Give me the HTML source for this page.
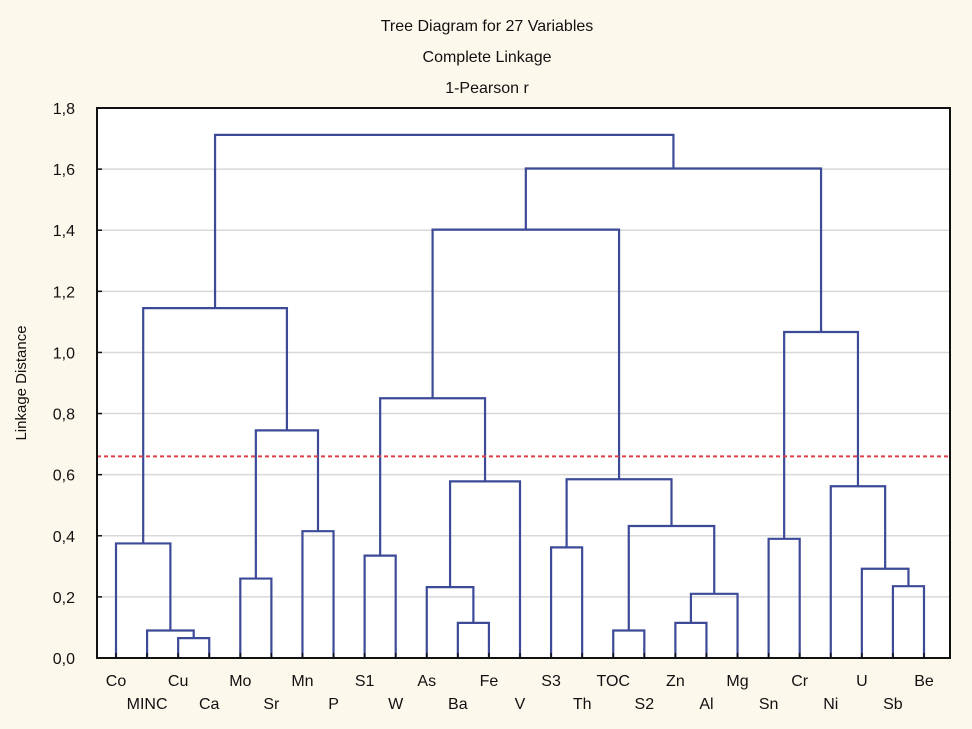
<!DOCTYPE html>
<html><head><meta charset="utf-8"><style>
html,body{margin:0;padding:0;background:#fdf8ec;}
svg{display:block;font-family:"Liberation Sans",sans-serif;}
</style></head><body>
<svg id="c" width="972" height="729">
<rect x="0" y="0" width="972" height="729" fill="#fdf8ec"/>
<text x="487" y="31" font-size="16" text-anchor="middle" fill="#111">Tree Diagram for 27 Variables</text>
<text x="487" y="62" font-size="16" text-anchor="middle" fill="#111">Complete Linkage</text>
<text x="487" y="93" font-size="16" text-anchor="middle" fill="#111">1-Pearson r</text>
<rect x="97" y="108" width="853" height="550" fill="#fff"/>
<g id="grid"></g><g id="marks"></g><g id="axes"></g>
<text transform="translate(26,383) rotate(-90)" font-size="15" text-anchor="middle" fill="#111">Linkage Distance</text>
</svg>
<script>
const leaves=["Co","MINC","Cu","Ca","Mo","Sr","Mn","P","S1","W","As","Ba","Fe","V","S3","Th","TOC","S2","Zn","Al","Mg","Sn","Cr","Ni","U","Sb","Be"];
// merges: [childA, childB, height]; children are leaf names or "m<index>"
const merges=[
["Cu","Ca",0.065],["MINC","m0",0.09],["Co","m1",0.375],
["Mo","Sr",0.26],["Mn","P",0.415],["m3","m4",0.745],["m2","m5",1.145],
["S1","W",0.335],["Ba","Fe",0.115],["As","m8",0.232],["m9","V",0.578],["m7","m10",0.85],
["S3","Th",0.362],["TOC","S2",0.09],["Zn","Al",0.115],["m14","Mg",0.21],["m13","m15",0.432],["m12","m16",0.585],
["m11","m17",1.402],
["Sn","Cr",0.39],["Sb","Be",0.235],["U","m20",0.292],["Ni","m21",0.562],["m19","m22",1.067],
["m18","m23",1.602],["m6","m24",1.712]];
const yTicks=[0,0.2,0.4,0.6,0.8,1.0,1.2,1.4,1.6,1.8];
const cutLevel=[0.66];
const L=97,R=950,T=108,B=658;
const y=v=>B-(v/1.8)*(B-T);
const x=i=>116+i*(924-116)/26;
const NS="http://www.w3.org/2000/svg";
function mk(tag,attrs,parent){const e=document.createElementNS(NS,tag);for(const k in attrs)e.setAttribute(k,attrs[k]);parent.appendChild(e);return e;}
const grid=document.getElementById('grid'),marks=document.getElementById('marks'),axes=document.getElementById('axes');
yTicks.forEach(v=>{
 if(v>0&&v<1.8){const g=mk('line',{x1:L,x2:R,y1:y(v),y2:y(v),stroke:'#d8d8d8','stroke-width':1.5},grid);
 
 }
 const t=mk('text',{x:75,y:y(v)+6,'font-size':16,'text-anchor':'end',fill:'#111'},axes);
 t.textContent=v.toFixed(1).replace('.',',');
 
 
 const tk=mk('line',{x1:L,x2:L+5,y1:y(v),y2:y(v),stroke:'#111','stroke-width':1.5},axes);
 
 
});
const pos={};const ht={};
leaves.forEach((n,i)=>{pos[n]=x(i);ht[n]=0;});
merges.forEach((m,i)=>{
 const a=m[0],b=m[1],h=m[2];
 const p=mk('path',{d:`M${pos[a]},${y(ht[a])}V${y(h)}H${pos[b]}V${y(ht[b])}`,fill:'none',stroke:'#3d4a98','stroke-width':2.2},marks);
 
 
 pos['m'+i]=(pos[a]+pos[b])/2;ht['m'+i]=h;
});
const cut=mk('line',{x1:L,x2:R,y1:y(cutLevel[0]),y2:y(cutLevel[0]),stroke:'#e0404a','stroke-width':2,'stroke-dasharray':'4 3'},marks);


const fr=mk('rect',{x:L,y:T,width:R-L,height:B-T,fill:'none',stroke:'#111','stroke-width':2},axes);


leaves.forEach((n,i)=>{
 const t=mk('text',{x:x(i),y:i%2?709:686,'font-size':16,'text-anchor':'middle',fill:'#111'},axes);
 t.textContent=n;
 
 
 const tk=mk('line',{x1:x(i),x2:x(i),y1:B,y2:B-5,stroke:'#111','stroke-width':1.5},axes);
 
 
});
</script>
</body></html>
